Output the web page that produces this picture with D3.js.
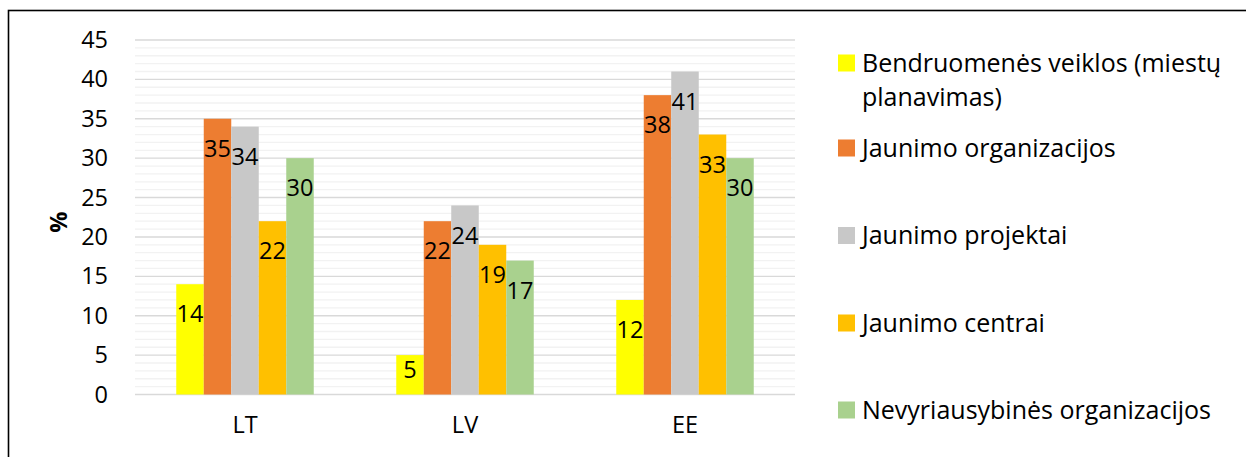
<!DOCTYPE html>
<html>
<head>
<meta charset="utf-8">
<script src="https://cdn.jsdelivr.net/npm/d3@7"></script>
<style>
  html, body { margin: 0; padding: 0; background: #fff; }
  svg { display: block; font-family: "Open Sans", sans-serif; }
</style>
</head>
<body>
<svg id="chart" width="1246" height="457"></svg>
<script>
const categories = ["LT", "LV", "EE"];
const seriesNames = [
  "Bendruomenės veiklos (miestų planavimas)",
  "Jaunimo organizacijos",
  "Jaunimo projektai",
  "Jaunimo centrai",
  "Nevyriausybinės organizacijos"
];
const legendLines = [
  ["Bendruomenės veiklos (miestų", "planavimas)"],
  ["Jaunimo organizacijos"],
  ["Jaunimo projektai"],
  ["Jaunimo centrai"],
  ["Nevyriausybinės organizacijos"]
];
const seriesColors = ["#FFFF00", "#ED7D31", "#C8C8C8", "#FFC000", "#A9D18E"];
const bendruomenes = [14, 5, 12];
const jaunimoOrg = [35, 22, 38];
const jaunimoProj = [34, 24, 41];
const jaunimoCentrai = [22, 19, 33];
const nvo = [30, 17, 30];
const seriesValues = [bendruomenes, jaunimoOrg, jaunimoProj, jaunimoCentrai, nvo];
const yTicks = [0, 5, 10, 15, 20, 25, 30, 35, 40, 45];
const yMinorTicks = d3.range(0, 46, 1);
const yLabel = "%";

const svg = d3.select("#chart");
const plot = { left: 135, right: 795, top: 40, bottom: 394.5 };
const fontSize = 23.5;
const legendFontSize = 25;
const fontFamily = "'Open Sans', sans-serif";

// outer border
svg.append("rect")
  .attr("x", 8.5).attr("y", 10.5)
  .attr("width", 1300).attr("height", 500)
  .attr("fill", "none").attr("stroke", "#000").attr("stroke-width", 1.6);

const y = d3.scaleLinear().domain([0, 45]).range([plot.bottom, plot.top]);
const x0 = d3.scaleBand().domain(categories).range([plot.left, plot.right])
  .paddingInner(0.375).paddingOuter(0.1875);
const x1 = d3.scaleBand().domain(d3.range(seriesNames.length)).range([0, x0.bandwidth()]);

// minor gridlines
svg.append("g").selectAll("line")
  .data(yMinorTicks.filter(d => d % 5 !== 0))
  .join("line")
  .attr("x1", plot.left).attr("x2", plot.right)
  .attr("y1", d => y(d)).attr("y2", d => y(d))
  .attr("stroke", "#F2F2F2").attr("stroke-width", 1.3);

// major gridlines
svg.append("g").selectAll("line")
  .data(yTicks)
  .join("line")
  .attr("x1", plot.left).attr("x2", plot.right)
  .attr("y1", d => y(d)).attr("y2", d => y(d))
  .attr("stroke", "#D9D9D9").attr("stroke-width", 1.4);

// y axis labels
const yAxis = d3.axisLeft(y).tickValues(yTicks).tickSize(0).tickPadding(0);
const yg = svg.append("g").attr("transform", `translate(${plot.left - 27},0)`).call(yAxis);
yg.select(".domain").remove();
yg.selectAll("text").attr("font-size", fontSize).attr("fill", "#000")
  .attr("font-family", fontFamily);

// x axis labels
const xAxis = d3.axisBottom(x0).tickSize(0).tickPadding(0);
const xg = svg.append("g").attr("transform", `translate(0,${plot.bottom + 22})`).call(xAxis);
xg.select(".domain").remove();
xg.selectAll("text").attr("font-size", fontSize).attr("fill", "#000")
  .attr("font-family", fontFamily);

// y label
svg.append("text")
  .attr("transform", `translate(67,${(plot.top + plot.bottom) / 2 + 5}) rotate(-90)`)
  .attr("text-anchor", "middle")
  .attr("font-size", fontSize).attr("font-weight", "bold")
  .text(yLabel);

// bars
const groups = svg.append("g").selectAll("g")
  .data(categories)
  .join("g")
  .attr("transform", d => `translate(${x0(d)},0)`);

const cells = groups.selectAll("g.cell")
  .data((c, ci) => seriesValues.map((vals, si) => ({ si, v: vals[ci] })))
  .join("g").attr("class", "cell");

cells.append("rect")
  .attr("x", d => x1(d.si))
  .attr("y", d => y(d.v))
  .attr("width", x1.bandwidth())
  .attr("height", d => y(0) - y(d.v))
  .attr("fill", d => seriesColors[d.si]);

cells.append("text")
  .attr("x", d => x1(d.si) + x1.bandwidth() / 2)
  .attr("y", d => Math.min(y(d.v) + 30, y(0) - 25))
  .attr("dy", "0.35em")
  .attr("text-anchor", "middle")
  .attr("font-size", fontSize)
  .attr("fill", "#000")
  .text(d => d.v);

// legend
const legendTops = [63, 148, 235.5, 323, 410];
const legend = svg.append("g").selectAll("g")
  .data(legendLines)
  .join("g")
  .attr("transform", (d, i) => `translate(838,${legendTops[i]})`);
legend.append("rect")
  .attr("x", 0).attr("y", -8.5)
  .attr("width", 17).attr("height", 17)
  .attr("fill", (d, i) => seriesColors[i]);
legend.each(function(lines) {
  const g = d3.select(this);
  lines.forEach((t, k) => {
    g.append("text")
      .attr("x", 24).attr("y", k * 34)
      .attr("dy", "0.35em")
      .attr("font-size", legendFontSize)
      .attr("fill", "#000")
      .text(t);
  });
});
</script>
</body>
</html>
